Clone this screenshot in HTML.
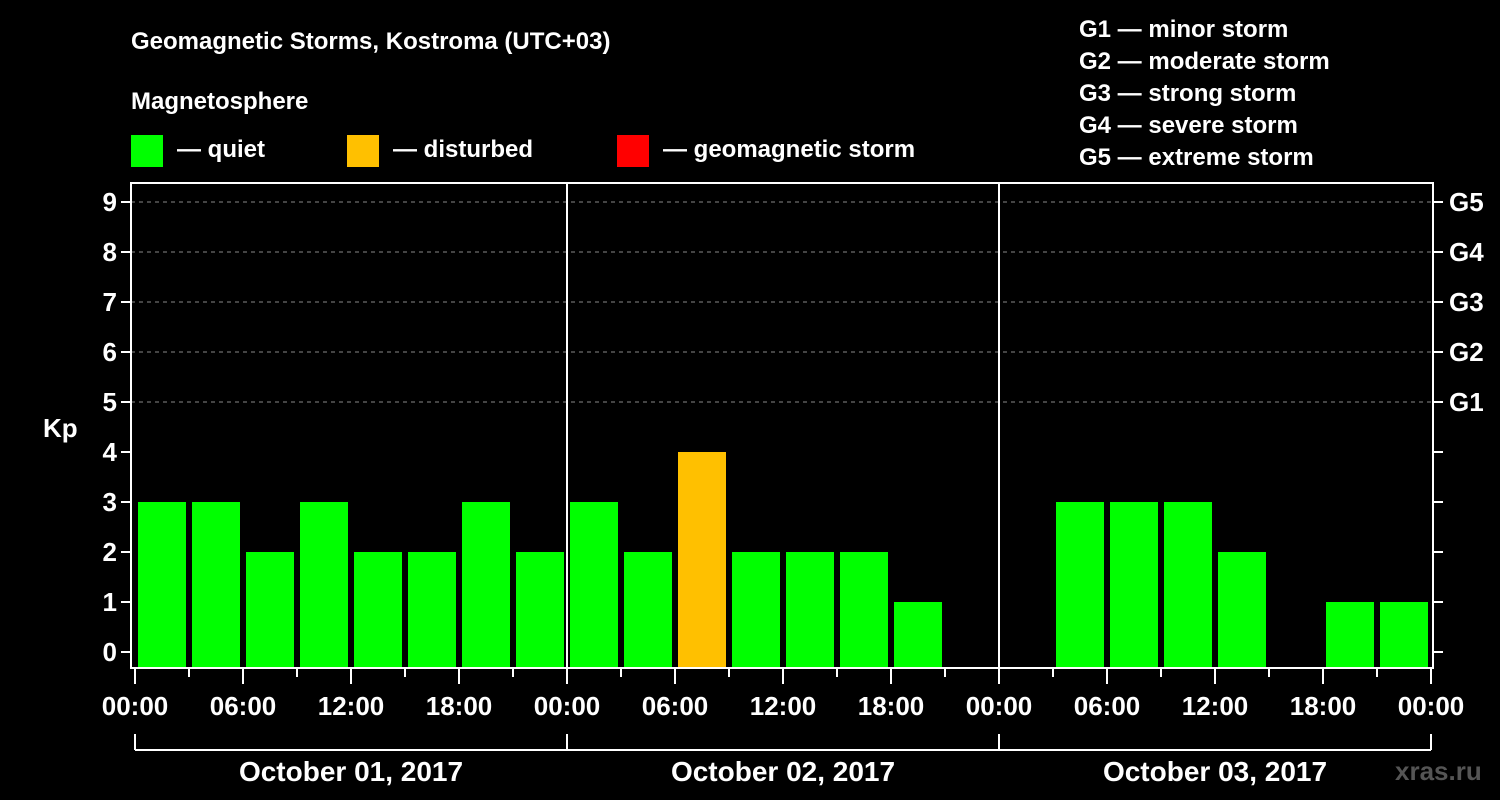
<!DOCTYPE html>
<html><head><meta charset="utf-8"><style>
html,body{margin:0;padding:0;background:#000;}
svg{display:block;font-family:"Liberation Sans",Arial,sans-serif;font-weight:bold;}
</style></head><body>
<svg width="1500" height="800" viewBox="0 0 1500 800">
<rect width="1500" height="800" fill="#000"/>
<text x="131" y="49" fill="#fff" font-size="24">Geomagnetic Storms, Kostroma (UTC+03)</text>
<text x="131" y="109" fill="#fff" font-size="24">Magnetosphere</text>
<g>
<rect x="131" y="135" width="32" height="32" fill="#00ff00"/>
<text x="177" y="157" fill="#fff" font-size="24">— quiet</text>
<rect x="347" y="135" width="32" height="32" fill="#ffc000"/>
<text x="393" y="157" fill="#fff" font-size="24">— disturbed</text>
<rect x="617" y="135" width="32" height="32" fill="#ff0000"/>
<text x="663" y="157" fill="#fff" font-size="24">— geomagnetic storm</text>
</g>
<g font-size="24" fill="#fff">
<text x="1079" y="37">G1 — minor storm</text>
<text x="1079" y="69">G2 — moderate storm</text>
<text x="1079" y="101">G3 — strong storm</text>
<text x="1079" y="133">G4 — severe storm</text>
<text x="1079" y="165">G5 — extreme storm</text>
</g>
<g id="plot"></g>
<text x="43" y="437" fill="#fff" font-size="26">Kp</text>
<text x="1395" y="780" fill="#555" font-size="26">xras.ru</text>
</svg>
<script>
const days = ["October 01, 2017","October 02, 2017","October 03, 2017"];
const kpDay1 = [3,3,2,3,2,2,3,2];
const kpDay2 = [3,2,4,2,2,2,1,null];
const kpDay3 = [null,3,3,3,2,null,1,1];
const yTicks = [0,1,2,3,4,5,6,7,8,9];
const gLabels = ["G1","G2","G3","G4","G5"];
const hourLabels = ["00:00","06:00","12:00","18:00"];

const NS="http://www.w3.org/2000/svg";
const g=document.getElementById('plot');
const X0=135, DAYW=432, L=131, R=1433, T=183, B=668;
const xH=h=>X0+h*DAYW/24;
const yK=k=>652-k*50;
function mk(tag,at,parent){const e=document.createElementNS(NS,tag);for(const k in at)e.setAttribute(k,at[k]);(parent||g).appendChild(e);return e;}

// gridlines
for(const k of yTicks){ if(k>=5){
  const l=mk('line',{x1:L,x2:R,y1:yK(k),y2:yK(k),stroke:'#888','stroke-dasharray':'4,4','stroke-width':1});
  
  
}}
// bars
const all=[kpDay1,kpDay2,kpDay3];
all.forEach((arr,d)=>arr.forEach((v,i)=>{
  if(v===null)return;
  const x=xH(d*24+i*3)+3;
  const col=v>=5?'#ff0000':(v>=4?'#ffc000':'#00ff00');
  const r=mk('rect',{x:x,y:yK(v),width:48,height:B-yK(v),fill:col});
  
  
}));
// frame
const f=mk('rect',{x:L,y:T,width:R-L,height:B-T,fill:'none',stroke:'#fff','stroke-width':2});


for(let d=1;d<days.length;d++){
  const l=mk('line',{x1:xH(d*24),x2:xH(d*24),y1:T,y2:B,stroke:'#fff','stroke-width':2});
  
  
}
// y ticks and labels
for(const k of yTicks){
  const y=yK(k);
  mk('line',{x1:L-10,x2:L,y1:y,y2:y,stroke:'#fff','stroke-width':2});
  mk('line',{x1:R,x2:R+10,y1:y,y2:y,stroke:'#fff','stroke-width':2});
  const t=mk('text',{x:L-14,y:y+9,fill:'#fff','font-size':26,'text-anchor':'end'});
  t.textContent=k;
  
  
  if(k>=5){
    const gt=mk('text',{x:R+16,y:y+9,fill:'#fff','font-size':26});
    gt.textContent=gLabels[k-5];
    
    
  }
}
// x ticks
for(let h=0;h<=24*days.length;h+=3){
  const x=xH(h);
  const major=h%6===0;
  mk('line',{x1:x,x2:x,y1:B,y2:B+(major?16:9),stroke:'#fff','stroke-width':2});
  if(major){
    const t=mk('text',{x:x,y:B+47,fill:'#fff','font-size':26,'text-anchor':'middle'});
    t.textContent=hourLabels[(h%24)/6];
    
    
  }
}
// date bracket
mk('line',{x1:xH(0),x2:xH(24*days.length),y1:750,y2:750,stroke:'#fff','stroke-width':2});
for(let d=0;d<=days.length;d++){
  mk('line',{x1:xH(d*24),x2:xH(d*24),y1:734,y2:750,stroke:'#fff','stroke-width':2});
}
days.forEach((s,d)=>{
  const t=mk('text',{x:xH(d*24+12),y:781,fill:'#fff','font-size':28,'text-anchor':'middle'});
  t.textContent=s;
  
  
});
</script>
</body></html>
